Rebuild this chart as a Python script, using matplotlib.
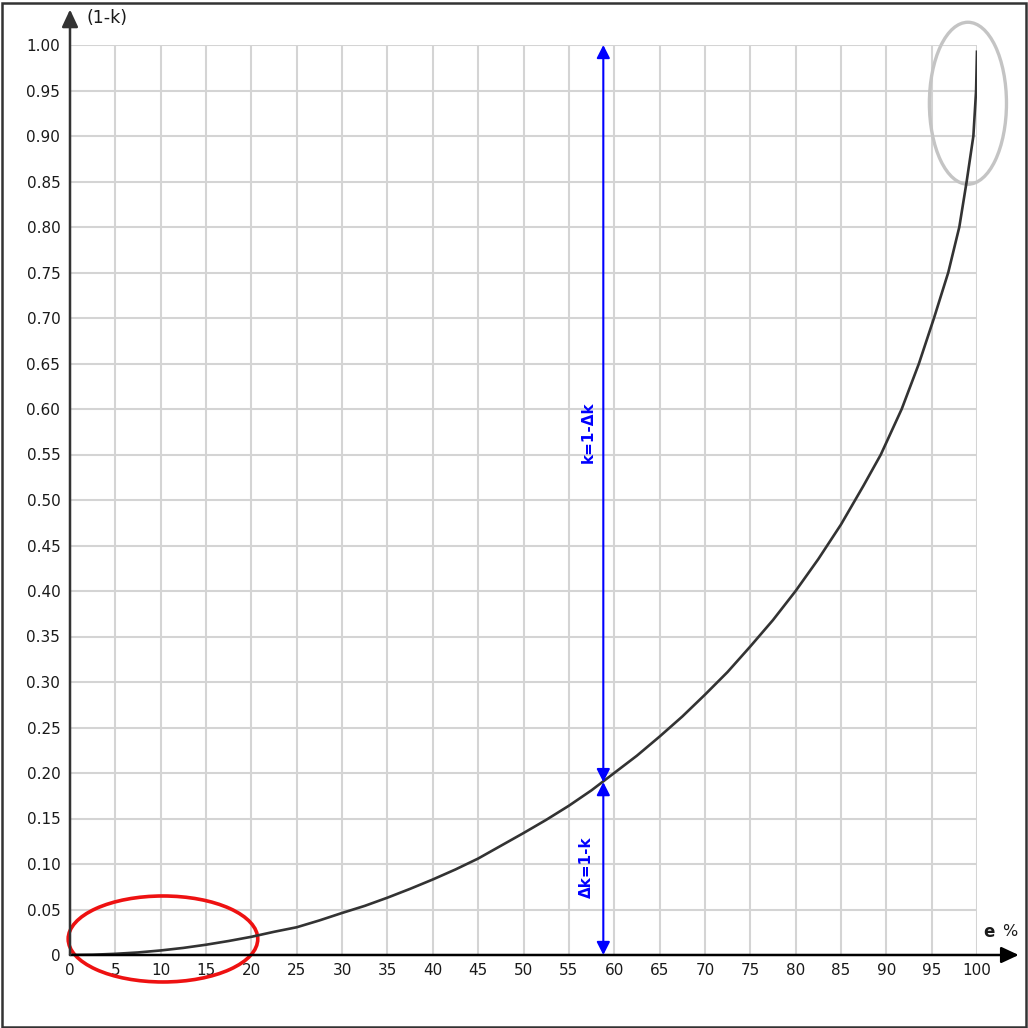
import matplotlib.pyplot as plt
from matplotlib.patches import Ellipse, Rectangle

# values
e_pct = [0, 2.5, 5, 7.5, 10, 12.5, 15, 17.5, 20, 22.5, 25, 27.5, 30, 32.5, 35,
         37.5, 40, 42.5, 45, 47.5, 50, 52.5, 55, 57.5, 60, 62.5, 65, 67.5, 70,
         72.5, 75, 77.5, 80, 82.5, 85, 87.5, 89.4, 91.7, 93.6, 95.26, 96.83,
         98.05, 98.86, 99.6, 99.9, 100]
one_minus_k = [0, 0.0003, 0.0013, 0.0028, 0.005, 0.0078, 0.0113, 0.0154, 0.020,
               0.0255, 0.0305, 0.038, 0.0462, 0.054, 0.063, 0.0727, 0.083,
               0.094, 0.106, 0.12, 0.134, 0.1485, 0.164, 0.181, 0.20, 0.219,
               0.24, 0.262, 0.286, 0.311, 0.339, 0.368, 0.40, 0.435, 0.473,
               0.516, 0.55, 0.60, 0.65, 0.70, 0.75, 0.80, 0.85, 0.90, 0.95,
               0.994]

x_ticks = list(range(0, 101, 5))
y_ticks = [i / 100 for i in range(0, 101, 5)]
y_labels = ["0"] + ["%.2f" % v for v in y_ticks[1:]]

e_mark = 58.8      # where the blue arrows stand
k_mark = 0.19      # curve value there

fig = plt.figure(figsize=(10.28, 10.28), dpi=100)
ax = fig.add_axes([70 / 1028, 73 / 1028, 907 / 1028, 910 / 1028])
ax.set_xlim(0, 100)
ax.set_ylim(0, 1)
for s in ax.spines.values():
    s.set_visible(False)

ax.set_xticks(x_ticks)
ax.set_yticks(y_ticks)
ax.set_yticklabels(y_labels)
ax.tick_params(length=0, labelsize=11, labelcolor="#1a1a1a")
ax.tick_params(axis="x", pad=6)
ax.tick_params(axis="y", pad=7)
ax.grid(True, color="#d4d4d4", lw=1.5)
ax.set_axisbelow(True)

# axes with arrows
ax.annotate("", xy=(104.6, 0), xytext=(0, 0), annotation_clip=False,
            arrowprops=dict(arrowstyle="-|>,head_length=0.75,head_width=0.35",
                            mutation_scale=14, color="black", lw=1.8,
                            shrinkA=0, shrinkB=0))
ax.annotate("", xy=(0, 1.039), xytext=(0, 0), annotation_clip=False,
            arrowprops=dict(arrowstyle="-|>,head_length=0.75,head_width=0.35",
                            mutation_scale=14, color="#333333", lw=1.8,
                            shrinkA=0, shrinkB=0))

ax.plot(e_pct, one_minus_k, color="#333333", lw=1.9, solid_capstyle="butt",
        solid_joinstyle="round")

# blue measuring arrows
blue_arrow = dict(arrowstyle="<|-|>,head_length=0.65,head_width=0.33",
                  mutation_scale=12, color="#0000ff", lw=1.5,
                  shrinkA=0, shrinkB=0)
ax.annotate("", xy=(e_mark, 1.0), xytext=(e_mark, k_mark), arrowprops=blue_arrow)
ax.annotate("", xy=(e_mark, k_mark), xytext=(e_mark, 0), arrowprops=blue_arrow)
ax.text(57.1, 0.575, "k=1-Δk", rotation=90, color="#0000ff", fontsize=11,
        fontweight="bold", ha="center", va="center")
ax.text(56.9, 0.097, "Δk=1-k", rotation=90, color="#0000ff", fontsize=11,
        fontweight="bold", ha="center", va="center")

# highlight ellipses
ax.add_patch(Ellipse((10.25, 0.0176), 20.9, 0.0945, fill=False,
                     edgecolor="#ee1111", lw=2.6, clip_on=False))
ax.add_patch(Ellipse((99.0, 0.936), 8.5, 0.178, fill=False,
                     edgecolor="#c4c4c4", lw=2.4, clip_on=False))

# axis names
fig.text(87 / 1028, 1 - 18 / 1028, "(1-k)", fontsize=12.5, color="#1a1a1a",
         ha="left", va="center")
fig.text(983 / 1028, 1 - 932 / 1028, "e", fontsize=12, fontweight="bold",
         color="#1a1a1a", ha="left", va="center")
fig.text(1002 / 1028, 1 - 932 / 1028, "%", fontsize=11.5, color="#1a1a1a",
         ha="left", va="center")

# frame around the whole picture
fig.patches.append(Rectangle((1.5 / 1028, 1.5 / 1028), 1024 / 1028, 1024 / 1028,
                             transform=fig.transFigure, fill=False,
                             edgecolor="#333333", lw=1.8))

fig.savefig("out.png", dpi=100)
